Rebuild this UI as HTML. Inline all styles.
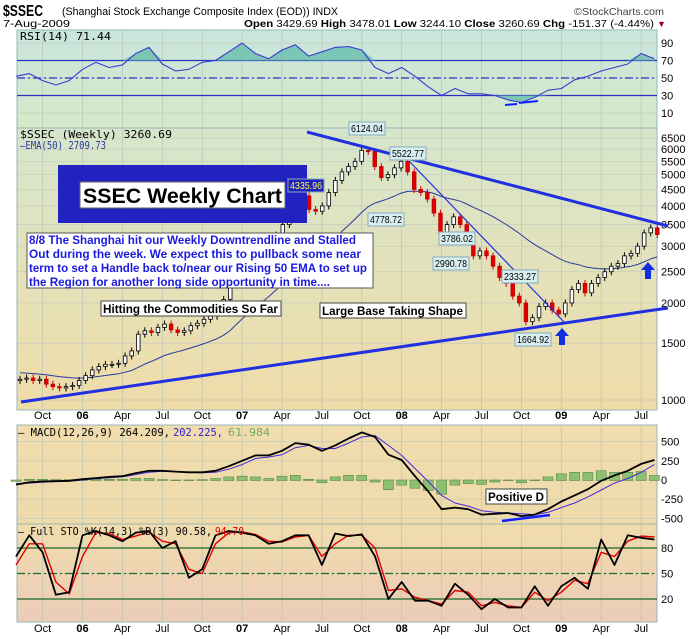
<!DOCTYPE html>
<html><head><meta charset="utf-8">
<style>
html,body{margin:0;padding:0;background:#fff;}
svg{display:block;font-family:"Liberation Sans",sans-serif;}
</style></head>
<body>
<svg id="chart" width="700" height="639" viewBox="0 0 700 639" xmlns="http://www.w3.org/2000/svg">
<defs>
<linearGradient id="gRsi" x1="0" y1="0" x2="0" y2="1"><stop offset="0" stop-color="#c8e6de"/><stop offset="1" stop-color="#d6e8c8"/></linearGradient>
<linearGradient id="gMain" x1="0" y1="0" x2="0" y2="1"><stop offset="0" stop-color="#d6e6cc"/><stop offset="1" stop-color="#f0dca8"/></linearGradient>
<linearGradient id="gMacd" x1="0" y1="0" x2="0" y2="1"><stop offset="0" stop-color="#f0dcac"/><stop offset="1" stop-color="#eedaaa"/></linearGradient>
<linearGradient id="gSto" x1="0" y1="0" x2="0" y2="1"><stop offset="0" stop-color="#f0dcac"/><stop offset="1" stop-color="#ecccb8"/></linearGradient>
</defs>
<g>
<text x="3" y="16" font-size="16" font-weight="bold" textLength="40" lengthAdjust="spacingAndGlyphs">$SSEC</text>
<text x="62" y="15" font-size="11" textLength="276" lengthAdjust="spacingAndGlyphs">(Shanghai Stock Exchange Composite Index (EOD))  INDX</text>
<text x="574" y="15" font-size="10.5" fill="#444" textLength="90" lengthAdjust="spacingAndGlyphs">©StockCharts.com</text>
<text x="3" y="27" font-size="10.5" textLength="67" lengthAdjust="spacingAndGlyphs">7-Aug-2009</text>
<text x="244" y="27" font-size="10.5" textLength="410" lengthAdjust="spacingAndGlyphs"><tspan font-weight="bold">Open</tspan> 3429.69 <tspan font-weight="bold">High</tspan> 3478.01 <tspan font-weight="bold">Low</tspan> 3244.10 <tspan font-weight="bold">Close</tspan> 3260.69 <tspan font-weight="bold">Chg</tspan> -151.37 (-4.44%)</text>
<text x="657" y="27" font-size="9" fill="#a00020">▼</text>
</g>
<rect x="17" y="30" width="640" height="98" fill="url(#gRsi)" stroke="#99b6b8"/>
<rect x="17" y="128" width="640" height="282" fill="url(#gMain)" stroke="#99b6b8"/>
<rect x="17" y="425" width="640" height="99" fill="url(#gMacd)" stroke="#99b6b8"/>
<rect x="17" y="524" width="640" height="98" fill="url(#gSto)" stroke="#99b6b8"/>
<g id="grid"></g>
<g id="marks"></g>
<g id="overlay"></g>
</svg>
<script>
// ---- data ----
const monthLabels = ["Oct","06","Apr","Jul","Oct","07","Apr","Jul","Oct","08","Apr","Jul","Oct","09","Apr","Jul"];
const monthLabelIdx = [2,5,8,11,14,17,20,23,26,29,32,35,38,41,44,47];
const priceTicks = [6500,6000,5500,5000,4500,4000,3500,3000,2500,2000,1500,1000];
const rsiTicks = [90,70,50,30,10];
const macdTicks = [500,250,0,-250,-500];
const stoTicks = [80,50,20];
// biweekly closes Aug 2005 .. Aug 2009
const closes = [1160,1170,1150,1160,1120,1100,1090,1100,1110,1150,
1190,1240,1270,1290,1290,1300,1370,1420,1600,1640,1620,1680,1720,1650,1620,1640,1700,1730,1780,1820,1900,2050,2300,2650,
2750,2800,2900,2850,3100,3250,3500,3800,4100,4300,3900,3850,4000,4400,4800,5100,5300,5500,5950,5900,5300,4900,5000,5250,
5500,5100,4500,4400,4200,3800,3300,3500,3700,3500,3100,2800,2900,2800,2600,2400,2300,2100,2000,1750,1800,1950,2000,1900,
1850,2000,2200,2300,2150,2300,2400,2500,2600,2650,2800,2850,3000,3300,3420,3260];
// monthly indicators Aug 2005 .. Aug 2009
const rsiVals = [52,55,47,42,47,60,68,62,65,78,85,66,58,60,68,70,80,90,78,72,82,88,75,80,85,86,82,62,55,62,52,40,30,38,32,32,30,25,22,28,36,38,48,52,58,62,66,78,72];
const macdVals = [-60,-30,-20,-15,-10,10,25,40,50,90,120,120,110,100,100,120,180,250,320,320,380,480,460,380,450,540,620,560,330,260,50,-150,-380,-360,-380,-450,-440,-430,-470,-450,-380,-280,-200,-120,-10,60,120,210,260];
const signalVals = [-50,-40,-30,-20,-15,0,15,30,40,70,100,115,110,100,95,100,140,200,280,300,330,420,450,410,410,480,560,580,450,320,150,-20,-200,-300,-340,-400,-420,-430,-440,-450,-420,-360,-300,-220,-130,-40,20,100,200];
const stoK = [70,95,75,25,28,95,100,95,88,98,100,80,88,45,55,95,100,98,95,85,88,95,95,60,97,94,96,70,20,40,18,18,12,38,25,8,20,10,10,35,12,35,45,32,90,60,95,92,90];
const stoD = [60,85,85,40,26,70,98,97,90,94,99,88,85,55,50,85,98,99,96,88,87,93,95,70,85,95,95,80,30,32,22,18,14,30,28,12,16,12,10,28,18,28,42,38,75,70,88,94,93];
const emaSeed = 1220;

// ---- axes ----
const NS="http://www.w3.org/2000/svg";
const X0=17,X1=657;
const xBar=i=>17+3+i*6.57;
const xMon=m=>16+m*13.3;
const yPrice=p=>400-(Math.log(p)-Math.log(1000))*140;
const yRsi=v=>113-(v-10)*0.875;
const yMacd=v=>480-v*0.0768;
const ySto=v=>616-v*0.85;
function mk(tag,attrs,parent){const e=document.createElementNS(NS,tag);for(const k in attrs)e.setAttribute(k,attrs[k]);parent.appendChild(e);return e;}
const grid=document.getElementById('grid'),marks=document.getElementById('marks'),ov=document.getElementById('overlay');

monthLabelIdx.forEach((m,j)=>{
  const x=xMon(m);
  [[30,128],[128,410],[425,524],[524,622]].forEach(r=>{
    const l=mk('line',{x1:x,x2:x,y1:r[0],y2:r[1],stroke:'#b8c4b4','stroke-width':0.7},grid);
    
    
  });
  const bold=/^\d/.test(monthLabels[j]);
  [419,632].forEach(y=>{
    const t=mk('text',{x:x,y:y,'font-size':11,'text-anchor':'middle','font-weight':bold?'bold':'normal'},grid);
    t.textContent=monthLabels[j];
    
    
  });
});
function hTicks(vals,yf){
  vals.forEach(v=>{
    const y=yf(v);
    const l=mk('line',{x1:X0,x2:X1,y1:y,y2:y,stroke:'#c4ccbc','stroke-width':0.7},grid);
    
    
    const t=mk('text',{x:661,y:y+4,'font-size':11},grid);
    t.textContent=v;
    
    
  });
}
hTicks(priceTicks,yPrice);hTicks(rsiTicks,yRsi);hTicks(macdTicks,yMacd);hTicks(stoTicks,ySto);
[[70,'none'],[30,'none'],[50,'8,3,2,3']].forEach(a=>{const l=mk('line',{x1:X0,x2:X1,y1:yRsi(a[0]),y2:yRsi(a[0]),stroke:'#2830c0','stroke-width':1.2,'stroke-dasharray':a[1]},grid);

});
[[80,'none'],[20,'none'],[50,'8,3,2,3']].forEach(a=>{const l=mk('line',{x1:X0,x2:X1,y1:ySto(a[0]),y2:ySto(a[0]),stroke:'#1a6a2a','stroke-width':1.2,'stroke-dasharray':a[1]},grid);

});

function poly(vals,xf,yf,attrs,name){
  const pts=vals.map((v,i)=>xf(i).toFixed(1)+','+yf(v).toFixed(1)).join(' ');
  const p=mk('polyline',Object.assign({points:pts,fill:'none','stroke-linejoin':'round'},attrs),marks);
  
  
  return p;
}
(function(){
  const clipA=rsiVals.map((v,i)=>xMon(i).toFixed(1)+','+yRsi(Math.max(v,70)).toFixed(1));
  let d='M'+xMon(0)+','+yRsi(70)+' L'+clipA.join(' L')+' L'+xMon(rsiVals.length-1)+','+yRsi(70)+'Z';
  const f=mk('path',{d:d,fill:'#6ec0b0',opacity:0.85},marks);
  
  
  const clipB=rsiVals.map((v,i)=>xMon(i).toFixed(1)+','+yRsi(Math.min(v,30)).toFixed(1));
  d='M'+xMon(0)+','+yRsi(30)+' L'+clipB.join(' L')+' L'+xMon(rsiVals.length-1)+','+yRsi(30)+'Z';
  const f2=mk('path',{d:d,fill:'#6ec0b0',opacity:0.85},marks);
  
  
})();
poly(rsiVals,xMon,yRsi,{stroke:'#3a3ad0','stroke-width':1.1},'rsi-line');

const ema=[];let e=emaSeed;closes.forEach(c=>{e=e+(c-e)*(2/26);ema.push(e);});
poly(ema,xBar,yPrice,{stroke:'#2a3aa0','stroke-width':1},'ema50-line');
closes.forEach((c,i)=>{
  const o=i?closes[i-1]:c*0.99;
  const hi=Math.max(o,c)*1.025,lo=Math.min(o,c)*0.975;
  const x=xBar(i);
  const up=c>=o;
  const w=mk('line',{x1:x,x2:x,y1:yPrice(hi),y2:yPrice(lo),stroke:up?'#000':'#d00000','stroke-width':1},marks);
  
  
  const yt=yPrice(Math.max(o,c)),yb=yPrice(Math.min(o,c));
  const r=mk('rect',{x:x-1.8,y:yt,width:3.6,height:Math.max(1,yb-yt),fill:up?'#fff':'#e00000',stroke:up?'#000':'#c00000','stroke-width':0.8},marks);
  
  
});

macdVals.forEach((v,i)=>{
  const h=v-signalVals[i];
  const y0=yMacd(0),y1=yMacd(h);
  const r=mk('rect',{x:xMon(i)-5,y:Math.min(y0,y1),width:10,height:Math.abs(y1-y0)+0.5,fill:'#8cc070',stroke:'#4a7a3a','stroke-width':0.5},marks);
  
  
});
poly(signalVals,xMon,yMacd,{stroke:'#4a2ad8','stroke-width':1},'macd-signal-line');
poly(macdVals,xMon,yMacd,{stroke:'#000','stroke-width':1.8},'macd-line');
poly(stoD,xMon,ySto,{stroke:'#e00000','stroke-width':1.4},'sto-d-line');
poly(stoK,xMon,ySto,{stroke:'#000','stroke-width':1.8},'sto-k-line');

function txt(x,y,s,attrs,name,parent){const t=mk('text',Object.assign({x:x,y:y},attrs),parent||ov);t.textContent=s;

return t;}
const LG={'font-size':11,'font-family':'DejaVu Sans Mono, monospace',lengthAdjust:'spacingAndGlyphs'};
txt(20,40,'RSI(14) 71.44',Object.assign({textLength:91},LG),'rsi-legend');
txt(20,138,'$SSEC (Weekly) 3260.69',Object.assign({textLength:152},LG),'price-legend');
txt(20,149,'—EMA(50) 2709.73',Object.assign({textLength:86,fill:'#2a3aa0'},LG),'ema-legend');
txt(18,436,'— MACD(12,26,9) 264.209,',Object.assign({textLength:152},LG),'macd-legend');
txt(173,436,'202.225,',Object.assign({textLength:50,fill:'#3020d0'},LG),'macd-signal-legend');
txt(228,436,'61.984',Object.assign({textLength:42,fill:'#70b060'},LG),'macd-hist-legend');
txt(18,535,'— Full STO %K(14,3) %D(3) 90.58,',Object.assign({textLength:194},LG),'sto-legend');
txt(215,535,'94.70',Object.assign({textLength:29,fill:'#e00000'},LG),'sto-d-legend');

[[307,132,668,226,3],[21,402,668,308,3],[409,161,565,323,1.2]].forEach(a=>{
  const l=mk('line',{x1:a[0],y1:a[1],x2:a[2],y2:a[3],stroke:'#2030e0','stroke-width':a[4]},ov);
  
  
});
[[505,105,517,104],[519,103,538,101]].forEach(a=>{const l=mk('line',{x1:a[0],y1:a[1],x2:a[2],y2:a[3],stroke:'#1020ff','stroke-width':2},ov);

});
const dl=mk('line',{x1:502,y1:521,x2:550,y2:515,stroke:'#1020ff','stroke-width':2.5},ov);



// title banner (drawn before callouts)
const b1=mk('rect',{x:58,y:165,width:249,height:58,fill:'#2222c0'},ov);


const b2=mk('rect',{x:80,y:182,width:205,height:26,fill:'#fff',stroke:'#666'},ov);


txt(83,203,'SSEC Weekly Chart',{'font-size':21,'font-weight':'bold',textLength:199,lengthAdjust:'spacingAndGlyphs'},'title-banner-text');

[[349,122,'6124.04'],[390,147,'5522.77'],[288,179,'4335.96'],[368,213,'4778.72'],[439,232,'3786.02'],[433,257,'2990.78'],[502,270,'2333.27'],[515,333,'1664.92']].forEach(a=>{
  const g=mk('g',{},ov);
  
  
  const special=a[2]==='4335.96';
  mk('rect',{x:a[0],y:a[1],width:36,height:13,fill:special?'#2020c0':'#d8eef0',stroke:'#8ab'},g);
  txt(a[0]+2,a[1]+10,a[2],{'font-size':10.5,fill:special?'#ffff40':'#000',textLength:32,lengthAdjust:'spacingAndGlyphs'},'callout-text',g);
});

const b3=mk('rect',{x:27,y:233,width:346,height:55,fill:'#fff',stroke:'#555'},ov);


const cl=[327,332,338,301];
['8/8  The Shanghai hit our Weekly Downtrendline and Stalled','Out during the week.  We expect this to pullback some near','term to set a Handle back to/near our Rising 50 EMA to set up','the Region for another long side opportunity in time....'].forEach((s,i)=>{
  txt(29,244+i*14,s,{'font-size':11.5,'font-weight':'bold',fill:'#1a1ae0',textLength:cl[i],lengthAdjust:'spacingAndGlyphs'},'comment-line');
});
[[101,301,180,'Hitting the Commodities So Far'],[320,303,146,'Large Base Taking Shape'],[486,489,61,'Positive D']].forEach(a=>{
  const r=mk('rect',{x:a[0],y:a[1],width:a[2],height:15,fill:'#fff',stroke:'#444'},ov);
  
  
  txt(a[0]+2,a[1]+12,a[3],{'font-size':11.5,'font-weight':'bold',textLength:a[2]-5,lengthAdjust:'spacingAndGlyphs'},'annotation-text');
});
[[562,328],[648,262]].forEach(a=>{
  const p=mk('path',{d:`M${a[0]-7},${a[1]+8} L${a[0]},${a[1]} L${a[0]+7},${a[1]+8} L${a[0]+3},${a[1]+8} L${a[0]+3},${a[1]+17} L${a[0]-3},${a[1]+17} L${a[0]-3},${a[1]+8}Z`,fill:'#1030e0'},ov);
  
  
});
</script>
</body></html>
